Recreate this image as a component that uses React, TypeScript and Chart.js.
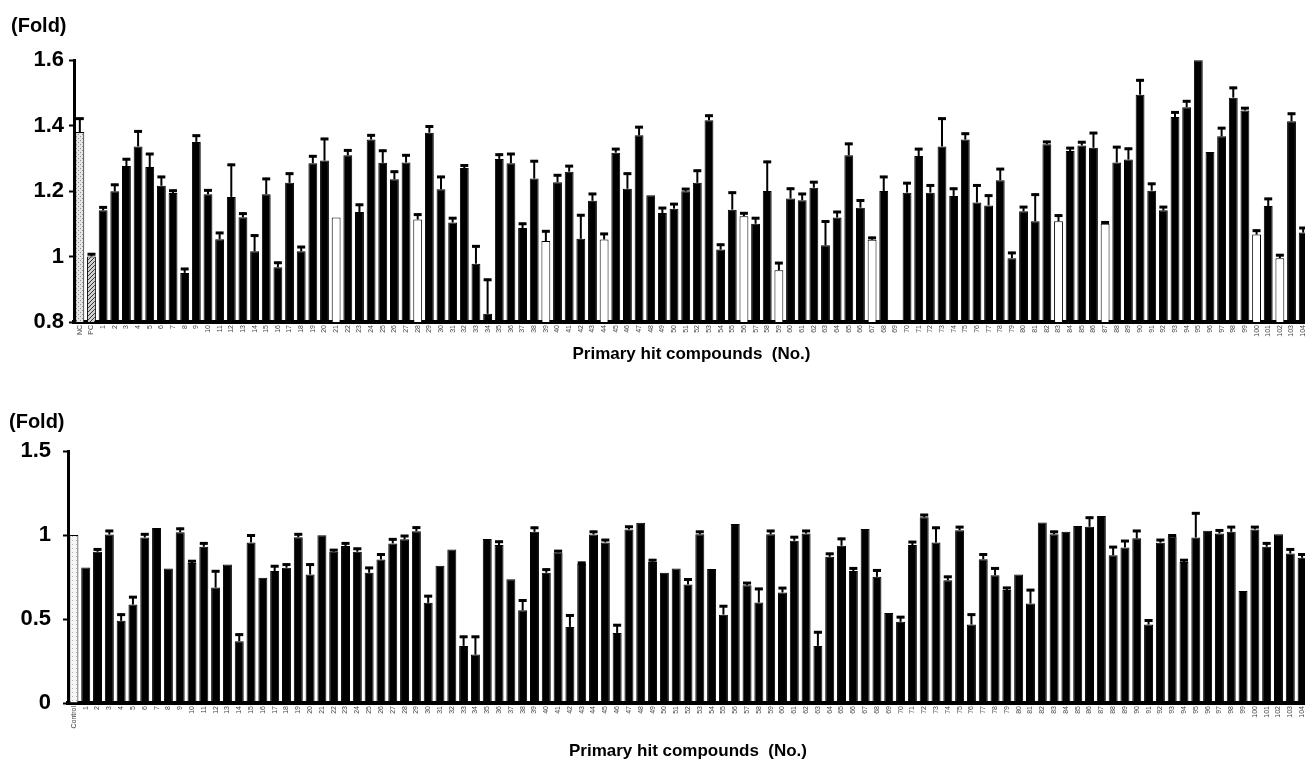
import React, { useEffect, useRef } from "react";
import { Chart, registerables } from "chart.js";

Chart.register(...registerables);

// ---------- Top panel data ----------
const topCompounds: string[] = ["NC", "PC", ...Array.from({ length: 104 }, (_, i) => String(i + 1))];
const topValues: (number | null)[] = [
  1.38, 1.0,
  1.141, 1.199, 1.276, 1.336, 1.273, 1.216, 1.194, 0.95, 1.35, 1.19,
  1.053, 1.182, 1.12, 1.016, 1.19, 0.967, 1.225, 1.016, 1.285, 1.293,
  1.119, 1.309, 1.136, 1.357, 1.286, 1.236, 1.287, 1.113, 1.378, 1.205,
  1.104, 1.27, 0.978, 0.825, 1.298, 1.285, 1.087, 1.238, 1.047, 1.227,
  1.259, 1.054, 1.17, 1.052, 1.317, 1.207, 1.37, 1.187, 1.133, 1.146,
  1.199, 1.225, 1.416, 1.021, 1.143, 1.123, 1.1, 1.2, 0.958, 1.177,
  1.172, 1.21, 1.034, 1.119, 1.309, 1.149, 1.051, 1.2, null, 1.195,
  1.307, 1.195, 1.336, 1.185, 1.357, 1.165, 1.156, 1.233, 0.995, 1.138,
  1.108, 1.343, 1.108, 1.322, 1.339, 1.332, 1.1, 1.287, 1.296, 1.494,
  1.201, 1.141, 1.426, 1.456, 1.599, 1.319, 1.367, 1.485, 1.446, 1.067,
  1.154, 0.995, 1.413, 1.073,
];
const topUpper: (number | null)[] = [
  1.424, 1.01,
  1.153, 1.222, 1.3, 1.385, 1.316, 1.246, 1.204, 0.965, 1.372, 1.205,
  1.075, 1.283, 1.134, 1.067, 1.24, 0.984, 1.256, 1.032, 1.309, 1.362,
  1.12, 1.327, 1.161, 1.373, 1.326, 1.262, 1.312, 1.131, 1.4, 1.246,
  1.12, 1.281, 1.034, 0.932, 1.314, 1.316, 1.103, 1.294, 1.08, 1.251,
  1.279, 1.129, 1.194, 1.072, 1.331, 1.256, 1.398, 1.187, 1.151, 1.163,
  1.209, 1.265, 1.433, 1.039, 1.198, 1.135, 1.12, 1.292, 0.983, 1.21,
  1.194, 1.23, 1.11, 1.139, 1.347, 1.174, 1.06, 1.246, null, 1.227,
  1.331, 1.22, 1.424, 1.21, 1.378, 1.22, 1.189, 1.27, 1.014, 1.154,
  1.192, 1.353, 1.128, 1.334, 1.352, 1.38, 1.107, 1.337, 1.332, 1.541,
  1.225, 1.154, 1.443, 1.477, 1.6, 1.319, 1.395, 1.518, 1.456, 1.082,
  1.179, 1.007, 1.439, 1.09,
];
const topWhiteBars: string[] = ["21", "28", "39", "44", "56", "59", "67", "83", "87", "100", "102"];
const topTicks: number[] = [0.8, 1.0, 1.2, 1.4, 1.6];

// ---------- Bottom panel data ----------
const bottomCompounds: string[] = ["Control", ...Array.from({ length: 104 }, (_, i) => String(i + 1))];
const bottomValues: number[] = [
  1.0,
  0.807, 0.9, 1.003, 0.489, 0.586, 0.985, 1.041, 0.8, 1.017, 0.834,
  0.93, 0.687, 0.824, 0.368, 0.956, 0.745, 0.785, 0.805, 0.987, 0.765,
  0.999, 0.9, 0.934, 0.9, 0.775, 0.854, 0.95, 0.974, 1.023, 0.596,
  0.817, 0.914, 0.34, 0.288, 0.976, 0.94, 0.737, 0.552, 1.019, 0.775,
  0.896, 0.453, 0.827, 1.003, 0.956, 0.417, 1.033, 1.073, 0.84, 0.775,
  0.8, 0.705, 1.005, 0.797, 0.526, 1.065, 0.701, 0.598, 1.005, 0.658,
  0.966, 1.009, 0.34, 0.87, 0.936, 0.785, 1.035, 0.751, 0.536, 0.483,
  0.94, 1.105, 0.956, 0.731, 1.029, 0.467, 0.856, 0.761, 0.672, 0.765,
  0.592, 1.075, 1.005, 1.019, 1.053, 1.049, 1.113, 0.88, 0.926, 0.98,
  0.467, 0.954, 0.989, 0.84, 0.985, 1.025, 1.009, 1.019, 0.666, 1.033,
  0.93, 1.005, 0.89, 0.864,
];
const bottomUpper: number[] = [
  1.0,
  0.807, 0.92, 1.03, 0.532, 0.636, 1.01, 1.041, 0.8, 1.043, 0.85,
  0.956, 0.79, 0.824, 0.413, 1.003, 0.745, 0.82, 0.83, 1.01, 0.83,
  0.999, 0.916, 0.956, 0.924, 0.81, 0.89, 0.98, 1.0, 1.05, 0.642,
  0.817, 0.914, 0.4, 0.4, 0.976, 0.966, 0.737, 0.616, 1.049, 0.8,
  0.91, 0.527, 0.84, 1.025, 0.976, 0.469, 1.055, 1.073, 0.856, 0.775,
  0.8, 0.741, 1.025, 0.797, 0.582, 1.065, 0.72, 0.685, 1.03, 0.69,
  0.993, 1.03, 0.427, 0.894, 0.983, 0.807, 1.035, 0.795, 0.536, 0.517,
  0.964, 1.125, 1.049, 0.757, 1.053, 0.532, 0.89, 0.807, 0.691, 0.765,
  0.678, 1.075, 1.025, 1.019, 1.053, 1.109, 1.113, 0.934, 0.97, 1.03,
  0.497, 0.976, 1.003, 0.856, 1.135, 1.025, 1.033, 1.053, 0.666, 1.053,
  0.956, 1.005, 0.92, 0.89,
];
const bottomTicks: number[] = [0, 0.5, 1.0, 1.5];

const AXIS_TITLE = "Primary hit compounds  (No.)";
const Y_UNIT = "(Fold)";
const FONT = "Arial, 'Liberation Sans', sans-serif";

function makePattern(bg: string, fg: string, kind: "dots" | "hatch" | "stipple"): CanvasPattern | string {
  const c = document.createElement("canvas");
  c.width = 4;
  c.height = 4;
  const g = c.getContext("2d");
  if (!g) return bg;
  g.fillStyle = bg;
  g.fillRect(0, 0, 4, 4);
  g.fillStyle = fg;
  if (kind === "hatch") {
    g.fillRect(3, 0, 1, 1);
    g.fillRect(2, 1, 1, 1);
    g.fillRect(1, 2, 1, 1);
    g.fillRect(0, 3, 1, 1);
  } else if (kind === "dots") {
    g.fillRect(0, 0, 1, 1);
    g.fillRect(2, 2, 1, 1);
  } else {
    g.fillRect(0, 1, 1, 1);
  }
  return g.createPattern(c, "repeat") || bg;
}

function errorBarPlugin(values: (number | null)[], upper: (number | null)[]) {
  return {
    id: "errorBars",
    afterDatasetsDraw(chart: any) {
      const meta = chart.getDatasetMeta(0);
      const yScale = chart.scales.y;
      const ctx = chart.ctx;
      ctx.save();
      ctx.strokeStyle = "#000";
      meta.data.forEach((el: any, i: number) => {
        const v = values[i];
        const u = upper[i];
        if (v == null || u == null || u - v < 0.004) return;
        const yTop = yScale.getPixelForValue(u);
        const x = el.x;
        const capW = el.width * 0.9;
        ctx.lineWidth = 2;
        ctx.beginPath();
        ctx.moveTo(x, el.y);
        ctx.lineTo(x, yTop);
        ctx.stroke();
        ctx.lineWidth = 3;
        ctx.beginPath();
        ctx.moveTo(x - capW / 2, yTop + 1);
        ctx.lineTo(x + capW / 2, yTop + 1);
        ctx.stroke();
      });
      ctx.restore();
    },
  };
}

function unitLabelPlugin(text: string, x: number, y: number) {
  return {
    id: "unitLabel",
    afterDraw(chart: any) {
      const ctx = chart.ctx;
      ctx.save();
      ctx.font = `bold 20px ${FONT}`;
      ctx.fillStyle = "#000";
      ctx.textBaseline = "middle";
      ctx.textAlign = "left";
      ctx.fillText(text, x, y);
      ctx.restore();
    },
  };
}

function buildOptions(cfg: {
  min: number;
  max: number;
  ticks: number[];
  padTop: number;
  xHeight: number;
  yWidth: number;
  yPad: number;
  titlePadBottom: number;
}) {
  return {
    responsive: false,
    animation: false as const,
    layout: { padding: { top: cfg.padTop, left: 0, right: 0, bottom: 0 } },
    plugins: { legend: { display: false }, tooltip: { enabled: false }, title: { display: false } },
    scales: {
      x: {
        type: "category" as const,
        offset: true,
        grid: { display: false, drawTicks: false },
        border: { display: true, color: "#000", width: 4 },
        ticks: {
          autoSkip: false,
          maxRotation: 90,
          minRotation: 90,
          padding: 3,
          color: "#444",
          font: { family: FONT, size: 7 },
        },
        title: {
          display: true,
          text: AXIS_TITLE,
          color: "#000",
          font: { family: FONT, size: 17, weight: "bold" as const },
          padding: { top: 0, bottom: cfg.titlePadBottom },
        },
        afterFit(scale: any) {
          scale.height = cfg.xHeight;
          scale.paddingLeft = 0;
          scale.paddingRight = 0;
        },
      },
      y: {
        min: cfg.min,
        max: cfg.max,
        afterBuildTicks(scale: any) {
          scale.ticks = cfg.ticks.map((v) => ({ value: v }));
        },
        grid: {
          drawOnChartArea: false,
          drawTicks: true,
          tickLength: 5,
          tickWidth: 2,
          color: "#000",
        },
        border: { display: true, color: "#000", width: 3 },
        ticks: {
          padding: cfg.yPad,
          color: "#000",
          font: { family: FONT, size: 22, weight: "bold" as const },
          callback: (v: any) => String(Math.round(Number(v) * 10) / 10),
        },
        afterFit(scale: any) {
          scale.width = cfg.yWidth;
        },
      },
    },
  };
}

function TopChart() {
  const ref = useRef<HTMLCanvasElement | null>(null);
  useEffect(() => {
    if (!ref.current) return;
    const ncFill = makePattern("#e6e6e6", "#8a8a8a", "dots");
    const pcFill = makePattern("#d0d0d0", "#333333", "hatch");
    const colors = topCompounds.map((c) =>
      c === "NC" ? ncFill : c === "PC" ? pcFill : topWhiteBars.includes(c) ? "#ffffff" : "#000000"
    );
    const chart = new Chart(ref.current, {
      type: "bar",
      data: {
        labels: topCompounds,
        datasets: [
          {
            data: topValues as any,
            backgroundColor: colors as any,
            borderColor: "#000",
            borderWidth: 1,
            categoryPercentage: 1,
            barPercentage: 0.76,
          },
        ],
      },
      options: buildOptions({
        min: 0.8,
        max: 1.6,
        ticks: topTicks,
        padTop: 60,
        xHeight: 53,
        yWidth: 74,
        yPad: 5,
        titlePadBottom: 10,
      }) as any,
      plugins: [errorBarPlugin(topValues, topUpper), unitLabelPlugin(Y_UNIT, 11, 26)],
    });
    return () => chart.destroy();
  }, []);
  return (
    <canvas
      ref={ref}
      width={1309}
      height={375}
      style={{ position: "absolute", left: 0, top: 0, width: 1309, height: 375 }}
    />
  );
}

function BottomChart() {
  const ref = useRef<HTMLCanvasElement | null>(null);
  useEffect(() => {
    if (!ref.current) return;
    const ctlFill = makePattern("#f6f6f6", "#b0b0b0", "stipple");
    const colors = bottomCompounds.map((c) => (c === "Control" ? ctlFill : "#000000"));
    const chart = new Chart(ref.current, {
      type: "bar",
      data: {
        labels: bottomCompounds,
        datasets: [
          {
            data: bottomValues,
            backgroundColor: colors as any,
            borderColor: "#000",
            borderWidth: 1,
            categoryPercentage: 1,
            barPercentage: 0.76,
          },
        ],
      },
      options: buildOptions({
        min: 0,
        max: 1.5,
        ticks: bottomTicks,
        padTop: 76,
        xHeight: 64,
        yWidth: 68,
        yPad: 12,
        titlePadBottom: 5,
      }) as any,
      plugins: [errorBarPlugin(bottomValues, bottomUpper), unitLabelPlugin(Y_UNIT, 9, 422 - 375)],
    });
    return () => chart.destroy();
  }, []);
  return (
    <canvas
      ref={ref}
      width={1308}
      height={392}
      style={{ position: "absolute", left: 0, top: 375, width: 1308, height: 392 }}
    />
  );
}

export default function App() {
  useEffect(() => {
    document.body.style.margin = "0";
    document.body.style.overflow = "hidden";
  }, []);
  return (
    <div
      style={{
        position: "absolute",
        left: 0,
        top: 0,
        width: 1305,
        height: 767,
        overflow: "hidden",
        background: "#fff",
      }}
    >
      <TopChart />
      <BottomChart />
    </div>
  );
}
